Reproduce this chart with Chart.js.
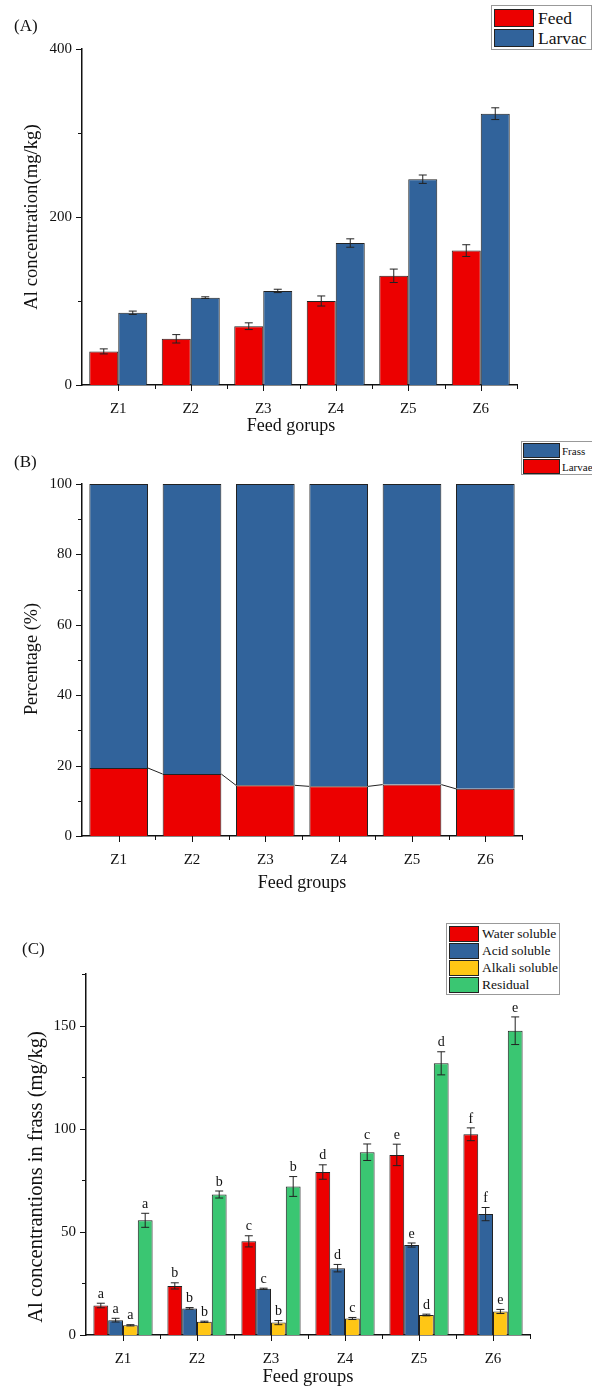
<!DOCTYPE html>
<html>
<head>
<meta charset="utf-8">
<script src="https://cdn.jsdelivr.net/npm/chart.js@4.4.0/dist/chart.umd.min.js"></script>
<style>
  body { margin: 0; background: #fff; font-family: "Liberation Serif", "Times New Roman", serif; color: #111; }
  #page { position: relative; width: 592px; height: 1387px; overflow: hidden; }
  canvas { position: absolute; left: 0; }
  .lbl { position: absolute; white-space: nowrap; }
  .ytitle { position: absolute; white-space: nowrap; transform: translate(-50%, -50%) rotate(-90deg); }
  .xtitle { position: absolute; white-space: nowrap; transform: translate(-50%, -50%); }
  .legend { position: absolute; border: 1px solid #999; background: #fff; box-sizing: border-box; overflow: hidden; }
  .legend .row { display: flex; align-items: center; white-space: nowrap; }
  .legend .sw { border: 1px solid #222; box-sizing: border-box; flex: none; }
</style>
</head>
<body>
<div id="page">
  <canvas id="cA" width="592" height="440" style="top:0"></canvas>
  <canvas id="cB" width="592" height="460" style="top:440px"></canvas>
  <canvas id="cC" width="592" height="487" style="top:900px"></canvas>

  <div class="lbl" style="left:14px;top:16px;font-size:17px">(A)</div>
  <div class="ytitle" style="left:31px;top:217px;font-size:18.7px">Al concentration(mg/kg)</div>
  <div class="xtitle" style="left:291px;top:425px;font-size:18px">Feed gorups</div>
  <div class="legend" id="legA" style="left:491px;top:5px;width:101px;height:45px;padding:3px 2px;font-size:17.5px"></div>

  <div class="lbl" style="left:14px;top:452px;font-size:17px">(B)</div>
  <div class="ytitle" style="left:31px;top:659px;font-size:18.3px">Percentage (%)</div>
  <div class="xtitle" style="left:302px;top:882px;font-size:18px">Feed groups</div>
  <div class="legend" id="legB" style="left:521px;top:441px;width:72px;height:34px;padding:1px 1px;font-size:11px"></div>

  <div class="lbl" style="left:22px;top:939px;font-size:17px">(C)</div>
  <div class="ytitle" style="left:35px;top:1177px;font-size:20.5px">Al concentrantions in frass (mg/kg)</div>
  <div class="xtitle" style="left:308px;top:1376px;font-size:18.5px">Feed groups</div>
  <div class="legend" id="legC" style="left:446px;top:923px;width:114px;height:72px;padding:2px 2px;font-size:13.5px"></div>
</div>

<script>
const groups = ['Z1', 'Z2', 'Z3', 'Z4', 'Z5', 'Z6'];

// (A) Al in feed and larvae
const feedA = [40, 55, 70, 100, 130, 160];
const feedErrA = [3, 5, 4, 6, 8, 7];
const larvaeA = [86, 104, 112, 169, 245, 323];
const larvaeErrA = [2, 1, 2, 5, 5, 7];

// (B) distribution, percent
const larvaePct = [19.3, 17.6, 14.4, 14.1, 14.6, 13.4];
const frassPct = [80.7, 82.4, 85.6, 85.9, 85.4, 86.6];

// (C) fractions in frass
const waterC = [14.3, 23.8, 45.4, 79, 87.3, 97.3];
const waterErrC = [1.1, 1.5, 2.7, 3.5, 5.2, 3.1];
const waterLetters = ['a', 'b', 'c', 'd', 'e', 'f'];
const acidC = [7.2, 12.9, 22.4, 32.4, 43.6, 58.6];
const acidErrC = [0.9, 0.4, 0.3, 1.8, 1, 3.2];
const acidLetters = ['a', 'b', 'c', 'd', 'e', 'f'];
const alkaliC = [4.7, 6.4, 6, 8, 9.7, 11.4];
const alkaliErrC = [0.3, 0.3, 1, 0.5, 0.4, 1];
const alkaliLetters = ['a', 'b', 'b', 'c', 'd', 'e'];
const residualC = [55.6, 68.1, 72, 88.6, 131.7, 147.5];
const residualErrC = [3.4, 1.7, 4.8, 4, 5.6, 6.7];
const residualLetters = ['a', 'b', 'b', 'c', 'd', 'e'];

const RED = '#ec0000';
const BLUE = '#31639b';
const YELLOW = '#ffc615';
const GREEN = '#3ac672';
const FONT = '"Liberation Serif", "Times New Roman", serif';

// error bars, letters, connect lines and the Origin-style ticks
const extras = {
  id: 'extras',
  afterDatasetsDraw(chart, args, opts) {
    const ctx = chart.ctx;
    const xs = chart.scales.x, ys = chart.scales.y;
    const area = chart.chartArea;
    ctx.save();

    if (opts.connect !== undefined) {
      const meta = chart.getDatasetMeta(opts.connect);
      ctx.strokeStyle = '#222';
      ctx.lineWidth = 1;
      ctx.beginPath();
      for (let i = 0; i < meta.data.length - 1; i++) {
        const a = meta.data[i], b = meta.data[i + 1];
        ctx.moveTo(a.x + a.width / 2, a.y);
        ctx.lineTo(b.x - b.width / 2, b.y);
      }
      ctx.stroke();
    }

    chart.data.datasets.forEach((ds, di) => {
      if (!ds.errors) return;
      const meta = chart.getDatasetMeta(di);
      meta.data.forEach((bar, i) => {
        const v = ds.data[i], e = ds.errors[i];
        const yt = ys.getPixelForValue(v + e);
        const yb = ys.getPixelForValue(v - e);
        const cap = opts.cap || 4;
        ctx.strokeStyle = '#222';
        ctx.lineWidth = 1;
        ctx.beginPath();
        ctx.moveTo(bar.x, yt); ctx.lineTo(bar.x, yb);
        ctx.moveTo(bar.x - cap, yt); ctx.lineTo(bar.x + cap, yt);
        ctx.moveTo(bar.x - cap, yb); ctx.lineTo(bar.x + cap, yb);
        ctx.stroke();
        if (ds.letters) {
          ctx.fillStyle = '#111';
          ctx.font = '14px ' + FONT;
          ctx.textAlign = 'center';
          ctx.textBaseline = 'bottom';
          ctx.fillText(ds.letters[i], bar.x, yt - 2);
        }
      });
    });

    // y ticks (major / minor)
    ctx.strokeStyle = '#111';
    ctx.lineWidth = 1;
    ctx.beginPath();
    for (let v = ys.min; v <= ys.max + 1e-6; v += opts.yMinor) {
      const len = Math.abs(v % opts.yMajor) < 1e-6 ? 6 : 4;
      const py = Math.round(ys.getPixelForValue(v)) + 0.5;
      ctx.moveTo(area.left - len, py);
      ctx.lineTo(area.left, py);
    }
    // x ticks: centres major, boundaries minor
    const n = chart.data.labels.length;
    const step = (xs.right - xs.left) / n;
    for (let i = 0; i < n; i++) {
      const px = Math.round(xs.getPixelForValue(i)) + 0.5;
      ctx.moveTo(px, area.bottom); ctx.lineTo(px, area.bottom + 6);
    }
    for (let i = 1; i <= n; i++) {
      const px = Math.round(xs.left + i * step) + 0.5;
      ctx.moveTo(px, area.bottom); ctx.lineTo(px, area.bottom + 4);
    }
    ctx.stroke();
    ctx.restore();
  }
};

function baseOptions(o) {
  return {
    responsive: false,
    animation: false,
    devicePixelRatio: 1,
    layout: { padding: { top: o.padTop, right: o.padRight, left: 0, bottom: 0 } },
    datasets: { bar: { categoryPercentage: 0.8, barPercentage: 1 } },
    plugins: {
      legend: { display: false },
      tooltip: { enabled: false },
      extras: { yMajor: o.yMajor, yMinor: o.yMinor, connect: o.connect, cap: o.cap }
    },
    scales: {
      x: {
        stacked: !!o.stacked,
        grid: { display: false, drawTicks: false },
        border: { display: true, color: '#111', width: 1.5 },
        ticks: { padding: 15, color: '#111', font: { family: FONT, size: 15 } },
        afterFit: s => { s.height = o.xHeight; }
      },
      y: {
        stacked: !!o.stacked,
        min: 0,
        max: o.yMax,
        bounds: 'data',
        grid: { display: false, drawTicks: false },
        border: { display: true, color: '#111', width: 1.5 },
        ticks: {
          stepSize: o.yMajor,
          padding: 10,
          color: '#111',
          font: { family: FONT, size: 15 },
          callback: v => (v % o.yMajor === 0 ? v : null)
        },
        afterFit: s => { s.width = o.yWidth; }
      }
    }
  };
}

function bar(label, data, color, errors, letters) {
  return { label, data, errors, letters, backgroundColor: color, borderColor: '#222', borderWidth: 1 };
}

const dsA = [
  bar('Feed', feedA, RED, feedErrA),
  bar('Larvac', larvaeA, BLUE, larvaeErrA)
];
new Chart(document.getElementById('cA'), {
  type: 'bar',
  data: { labels: groups, datasets: dsA },
  options: baseOptions({ yMax: 400, yMajor: 200, yMinor: 100, yWidth: 82, xHeight: 55, padTop: 49, padRight: 75, cap: 4 }),
  plugins: [extras]
});

const dsB = [
  bar('Larvae', larvaePct, RED),
  bar('Frass', frassPct, BLUE)
];
new Chart(document.getElementById('cB'), {
  type: 'bar',
  data: { labels: groups, datasets: dsB },
  options: baseOptions({ yMax: 100, yMajor: 20, yMinor: 10, yWidth: 82, xHeight: 64, padTop: 44, padRight: 70, stacked: true, connect: 0 }),
  plugins: [extras]
});

const dsC = [
  bar('Water soluble', waterC, RED, waterErrC, waterLetters),
  bar('Acid soluble', acidC, BLUE, acidErrC, acidLetters),
  bar('Alkali soluble', alkaliC, YELLOW, alkaliErrC, alkaliLetters),
  bar('Residual', residualC, GREEN, residualErrC, residualLetters)
];
new Chart(document.getElementById('cC'), {
  type: 'bar',
  data: { labels: groups, datasets: dsC },
  options: baseOptions({ yMax: 175, yMajor: 50, yMinor: 25, yWidth: 86, xHeight: 52, padTop: 74, padRight: 62, cap: 4 }),
  plugins: [extras]
});

// legends built from the datasets
function legend(id, items, sw, rowH, gap, space) {
  const el = document.getElementById(id);
  items.forEach((d, i) => {
    const row = document.createElement('div');
    row.className = 'row';
    row.style.height = rowH + 'px';
    if (i > 0) row.style.marginTop = gap + 'px';
    const s = document.createElement('div');
    s.className = 'sw';
    s.style.width = sw[0] + 'px';
    s.style.height = sw[1] + 'px';
    s.style.background = d.backgroundColor;
    const t = document.createElement('span');
    t.textContent = d.label;
    t.style.marginLeft = space + 'px';
    row.appendChild(s);
    row.appendChild(t);
    el.appendChild(row);
  });
}
legend('legA', dsA, [40, 18], 18, 2, 4);
legend('legB', [dsB[1], dsB[0]], [37, 15], 15, 1, 2);
legend('legC', dsC, [30, 16], 16, 1, 3);
</script>
</body>
</html>
